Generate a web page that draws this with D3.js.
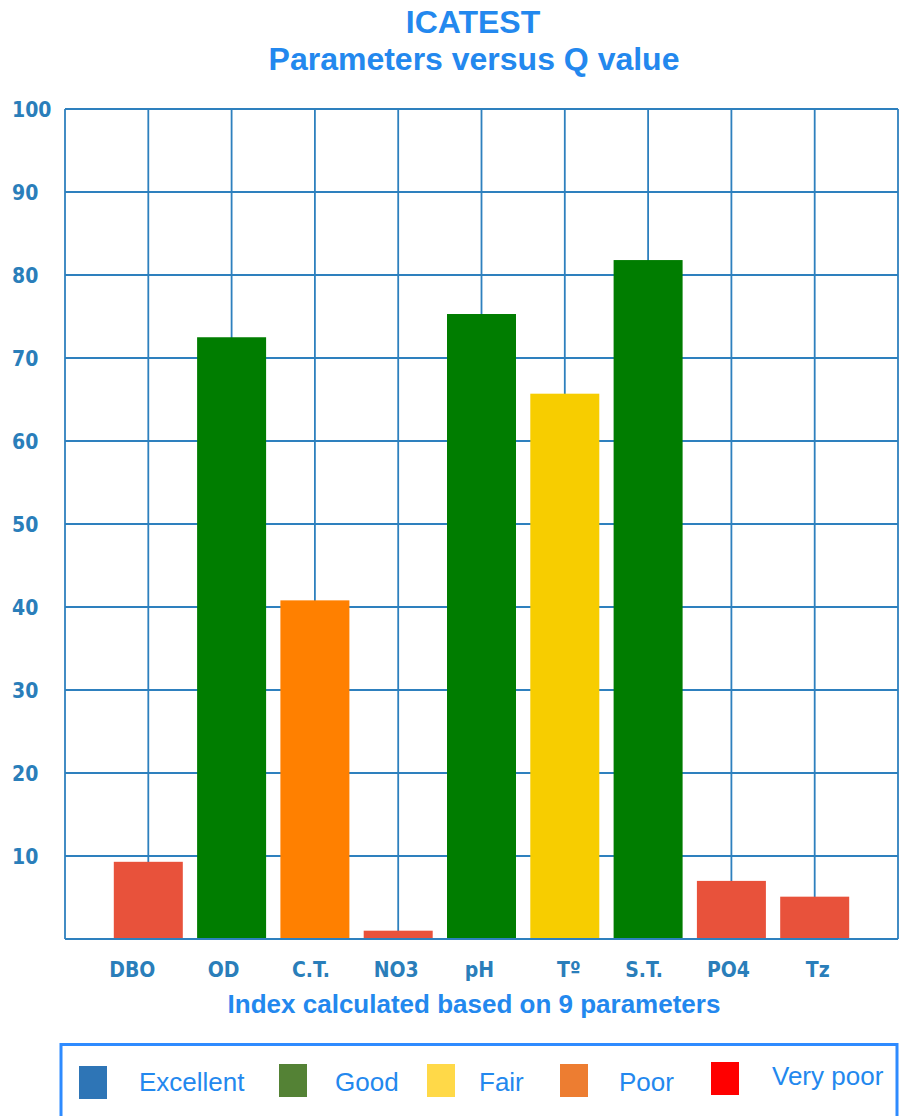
<!DOCTYPE html>
<html>
<head>
<meta charset="utf-8">
<script src="https://cdn.jsdelivr.net/npm/d3@7"></script>
<style>
  html, body { margin: 0; padding: 0; background: #fff; }
  svg { display: block; }
</style>
</head>
<body>
<svg id="chart" width="902" height="1116"></svg>
<script>
// Q value per parameter of the ICATEST water quality index
const parameters = ["DBO", "OD", "C.T.", "NO3", "pH", "T\u00BA", "S.T.", "PO4", "Tz"];
const qValues    = [9.3, 72.5, 40.8, 1.0, 75.3, 65.7, 81.8, 7.0, 5.1];
const barColors  = ["#E8523B", "#007D00", "#FF8000", "#E8523B", "#007D00", "#F7CD00", "#007D00", "#E8523B", "#E8523B"];
const yTicks     = [10, 20, 30, 40, 50, 60, 70, 80, 90, 100];

const legendLabels = ["Excellent", "Good", "Fair", "Poor", "Very poor"];
const legendColors = ["#2E75B6", "#548235", "#FFD948", "#ED7D31", "#FF0000"];

const svg = d3.select("#chart");
const plot = { left: 65, right: 898, top: 109, bottom: 939 };
const gridColor = "#2E80BE";
const tickColor = "#2A7EBA";
const textBlue  = "#2388EE";
const condensedBold = "bold 21px 'DejaVu Sans Condensed', 'DejaVu Sans', sans-serif";

const x = d3.scalePoint().domain(parameters).range([plot.left, plot.right]).padding(1);
const y = d3.scaleLinear().domain([0, 100]).range([plot.bottom, plot.top]);

// Titles
svg.append("text").attr("x", 473).attr("y", 33)
  .attr("text-anchor", "middle").attr("fill", textBlue)
  .style("font", "bold 32px 'Liberation Sans', Arial, sans-serif")
  .text("ICATEST");
svg.append("text").attr("x", 474).attr("y", 70)
  .attr("text-anchor", "middle").attr("fill", textBlue)
  .style("font", "bold 32px 'Liberation Sans', Arial, sans-serif")
  .text("Parameters versus Q value");

// Grid: horizontal lines at each tick, vertical lines at each category and the frame edges
const grid = svg.append("g").attr("stroke", gridColor).attr("stroke-width", 1.8).attr("fill", "none");
grid.selectAll("line.h").data(yTicks).join("line")
  .attr("x1", plot.left).attr("x2", plot.right)
  .attr("y1", d => y(d)).attr("y2", d => y(d));
grid.selectAll("line.v").data(parameters).join("line")
  .attr("x1", d => x(d)).attr("x2", d => x(d))
  .attr("y1", plot.top).attr("y2", plot.bottom);
grid.append("line").attr("x1", plot.left).attr("x2", plot.left).attr("y1", plot.top).attr("y2", plot.bottom);
grid.append("line").attr("x1", plot.right).attr("x2", plot.right).attr("y1", plot.top).attr("y2", plot.bottom);

// Bars
const barW = 69;
svg.append("g").selectAll("rect").data(parameters).join("rect")
  .attr("x", d => x(d) - barW / 2)
  .attr("width", barW)
  .attr("y", (d, i) => y(qValues[i]))
  .attr("height", (d, i) => y(0) - y(qValues[i]))
  .attr("fill", (d, i) => barColors[i]);

// Baseline
svg.append("line").attr("x1", plot.left).attr("x2", plot.right)
  .attr("y1", y(0)).attr("y2", y(0))
  .attr("stroke", gridColor).attr("stroke-width", 2);

// Y tick labels (left aligned)
svg.append("g").selectAll("text").data(yTicks).join("text")
  .attr("x", 12).attr("y", d => y(d)).attr("dy", "0.36em")
  .attr("fill", tickColor)
  .style("font", condensedBold)
  .text(d => d);

// X category labels, nudged slightly as in the original layout
const labelNudge = [-16, -8, -4, -2, -2, 4, -4, -3, 3];
svg.append("g").selectAll("text").data(parameters).join("text")
  .attr("x", (d, i) => x(d) + labelNudge[i]).attr("y", 977)
  .attr("text-anchor", "middle").attr("fill", tickColor)
  .style("font", condensedBold)
  .text(d => d);

// Axis caption
svg.append("text").attr("x", 474).attr("y", 1013)
  .attr("text-anchor", "middle").attr("fill", textBlue)
  .style("font", "bold 26px 'Liberation Sans', Arial, sans-serif")
  .text("Index calculated based on 9 parameters");

// Legend
svg.append("rect").attr("x", 61).attr("y", 1044.5).attr("width", 836).attr("height", 90)
  .attr("fill", "none").attr("stroke", "#2E8BFF").attr("stroke-width", 3);

const legendSwatchX = [79, 279, 427, 560, 711];
const legendSwatchY = [1066, 1064, 1064, 1064, 1062];
const legendTextX   = [139, 335, 479, 619, 772];
const legendTextY   = [1091, 1091, 1091, 1091, 1085];
const lg = svg.append("g");
lg.selectAll("rect").data(legendLabels).join("rect")
  .attr("x", (d, i) => legendSwatchX[i]).attr("y", (d, i) => legendSwatchY[i])
  .attr("width", 28).attr("height", 33)
  .attr("fill", (d, i) => legendColors[i]);
lg.selectAll("text").data(legendLabels).join("text")
  .attr("x", (d, i) => legendTextX[i]).attr("y", (d, i) => legendTextY[i])
  .attr("fill", textBlue)
  .style("font", "26px 'Liberation Sans', Arial, sans-serif")
  .text(d => d);
</script>
</body>
</html>
